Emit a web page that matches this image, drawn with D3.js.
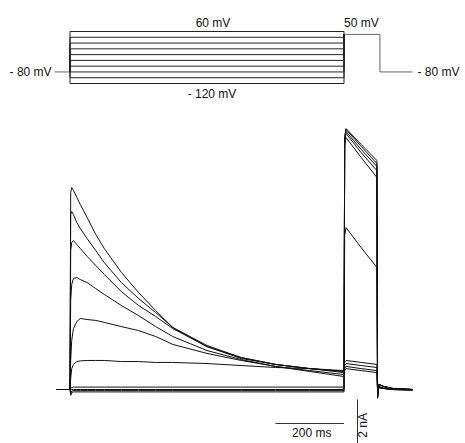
<!DOCTYPE html>
<html>
<head>
<meta charset="utf-8">
<script src="https://cdn.jsdelivr.net/npm/d3@7"></script>
<style>
  body { margin: 0; background: #fff; }
  text { font-family: "Liberation Sans", Arial, sans-serif; font-size: 12px; fill: #111; }
</style>
</head>
<body>
<div id="vis-container"></div>
<script>
/* voltage protocol (mV, ms) */
const protoLevels = [-120, -100, -80, -60, -40, -20, 0, 20, 40, 60];
const holdLevel = -80;
const stepLevel = 50;
const protoTimes = [-45, 0, 800, 905, 1000]; // hold start, test start, test end, step end, end

/* current traces (nA), one per test level, sampled at traceTimes (ms) */
const traceTimes = [-40, 0, 2, 5, 10, 20, 30, 50, 75, 100, 150, 200, 250, 300, 400, 500, 600, 700, 800,
  802, 806, 850, 896, 898, 902, 915, 940, 1000];

const i60 = [0, 0, 8.95, 9.18, 9.05, 8.73, 8.41, 7.82, 7.05, 6.41, 5.32, 4.41, 3.59, 2.82, 1.95, 1.41, 1.14, 0.95, 0.82,
  0.86, 0.95, 0.86, 0.77, -0.05, 0.09, 0.05, 0, -0.02];
const i40 = [0, 0, 7.95, 8.09, 7.95, 7.59, 7.32, 6.86, 6.32, 5.77, 4.86, 4.14, 3.5, 2.82, 2.0, 1.45, 1.14, 0.95, 0.82,
  0.95, 1.05, 0.95, 0.86, -0.05, 0.09, 0.05, 0, -0.02];
const i20 = [0, 0, 6.32, 6.68, 6.77, 6.59, 6.41, 6.05, 5.64, 5.23, 4.45, 3.82, 3.32, 2.77, 1.95, 1.45, 1.14, 0.95, 0.77,
  1.09, 1.18, 1.09, 1.0, -0.05, 0.09, 0.05, 0, -0.02];
const i0 = [0, 0, 4.05, 4.77, 5.05, 5.09, 5.0, 4.86, 4.59, 4.32, 3.82, 3.36, 2.86, 2.41, 1.77, 1.36, 1.05, 0.86, 0.68,
  1.23, 1.32, 1.23, 1.14, -0.05, 0.09, 0.05, 0, -0.02];
const im20 = [0, 0, 1.32, 2.23, 2.77, 3.09, 3.23, 3.18, 3.14, 3.05, 2.86, 2.68, 2.41, 2.05, 1.64, 1.32, 1.05, 0.82, 0.59,
  7.0, 7.36, 6.45, 5.55, -0.14, 0.14, 0.07, 0.02, 0];
const im40 = [0, 0, 0.5, 0.95, 1.14, 1.27, 1.3, 1.32, 1.32, 1.32, 1.27, 1.27, 1.23, 1.23, 1.18, 1.09, 1.0, 0.95, 0.86,
  11.09, 11.45, 10.55, 9.64, -0.32, 0.23, 0.14, 0.05, 0];
const im60 = [0, 0, 0.05, 0.09, 0.11, 0.11, 0.11, 0.11, 0.11, 0.11, 0.11, 0.11, 0.11, 0.11, 0.11, 0.11, 0.11, 0.11, 0.11,
  11.27, 11.64, 10.77, 9.95, -0.32, 0.23, 0.14, 0.05, 0];
const im80 = [0, 0, 0, 0, 0, 0, 0, 0, 0, 0, 0, 0, 0, 0, 0, 0, 0, 0, 0,
  11.36, 11.73, 10.91, 10.14, -0.36, 0.23, 0.14, 0.05, 0];
const im100 = [0, 0, -0.18, -0.07, -0.05, -0.05, -0.05, -0.05, -0.05, -0.05, -0.05, -0.05, -0.05, -0.05, -0.05, -0.05, -0.05, -0.05, -0.05,
  11.45, 11.82, 11.05, 10.27, -0.38, 0.23, 0.14, 0.05, 0];
const im120 = [0, 0, -0.27, -0.14, -0.11, -0.11, -0.11, -0.11, -0.11, -0.11, -0.11, -0.11, -0.11, -0.11, -0.11, -0.11, -0.11, -0.11, -0.11,
  11.5, 11.86, 11.14, 10.41, -0.4, 0.23, 0.14, 0.05, 0];

const traces = [im120, im100, im80, im60, im40, im20, i0, i20, i40, i60];

/* scale bars */
const timeBar = [600, 800];   // 200 ms
const currentBar = [-0.45, -2.45]; // 2 nA
const currentBarTime = 838;

const width = 465, height = 443;

let svg = d3.select('#vis-container')
  .append('svg')
  .attr('width', width)
  .attr('height', height);

svg.append('rect').attr('width', width).attr('height', height).attr('fill', '#fff');

// shared time axis
let x = d3.scaleLinear().domain([0, 800]).range([70, 344]);
let yV = d3.scaleLinear().domain([-120, 60]).range([83.5, 31.5]);
let yI = d3.scaleLinear().domain([0, 2]).range([389.5, 345.5]);

/* PROTOCOL */
let vLine = d3.line().x(d => x(d[0])).y(d => yV(d[1]));

let g1 = svg.append('g');

g1.append('path')
  .datum([[protoTimes[0], holdLevel], [protoTimes[1], holdLevel]])
  .attr('fill', 'none').attr('stroke', '#666').attr('stroke-width', 1)
  .attr('d', vLine);

g1.append('path')
  .datum([[protoTimes[2], stepLevel], [protoTimes[3], stepLevel], [protoTimes[3], holdLevel], [protoTimes[4], holdLevel]])
  .attr('fill', 'none').attr('stroke', '#666').attr('stroke-width', 1)
  .attr('d', vLine);

g1.selectAll('.lvl')
  .data(protoLevels)
  .join('path')
  .attr('class', 'lvl')
  .attr('fill', 'none')
  .attr('stroke', '#222')
  .attr('stroke-width', 1)
  .attr('d', v => vLine([[protoTimes[1], holdLevel], [protoTimes[1], v], [protoTimes[2], v], [protoTimes[2], stepLevel]]));

g1.append('text').attr('x', x(400) + 6).attr('y', yV(60) - 5).attr('text-anchor', 'middle').text('60 mV');
g1.append('text').attr('x', x(400) + 5).attr('y', yV(-120) + 14).attr('text-anchor', 'middle').text('- 120 mV');
g1.append('text').attr('x', x(800)).attr('y', yV(60) - 5).text('50 mV');
g1.append('text').attr('x', x(protoTimes[0]) - 3).attr('y', yV(holdLevel) + 4).attr('text-anchor', 'end').text('- 80 mV');
g1.append('text').attr('x', x(protoTimes[4]) + 5).attr('y', yV(holdLevel) + 4).text('- 80 mV');

/* CURRENTS */
let iLine = d3.line()
  .x((d, i) => x(traceTimes[i]))
  .y(d => yI(d));

svg.append('g')
  .selectAll('path')
  .data(traces)
  .join('path')
  .attr('fill', 'none')
  .attr('stroke', '#111')
  .attr('stroke-width', 1)
  .attr('stroke-linejoin', 'round')
  .attr('d', iLine);

/* SCALE BARS */
svg.append('line')
  .attr('x1', x(timeBar[0])).attr('x2', x(timeBar[1]))
  .attr('y1', 423.5).attr('y2', 423.5)
  .attr('stroke', '#333').attr('stroke-width', 1);
svg.append('text')
  .attr('x', (x(timeBar[0]) + x(timeBar[1])) / 2 + 2)
  .attr('y', 437)
  .attr('text-anchor', 'middle')
  .text('200 ms');

svg.append('line')
  .attr('x1', x(currentBarTime) + 0.5).attr('x2', x(currentBarTime) + 0.5)
  .attr('y1', yI(currentBar[0])).attr('y2', yI(currentBar[1]))
  .attr('stroke', '#333').attr('stroke-width', 1);
svg.append('text')
  .attr('transform', `translate(${x(currentBarTime) + 10},${yI((currentBar[0] + currentBar[1]) / 2) + 4}) rotate(-90)`)
  .attr('text-anchor', 'middle')
  .text('2 nA');
</script>
</body>
</html>
